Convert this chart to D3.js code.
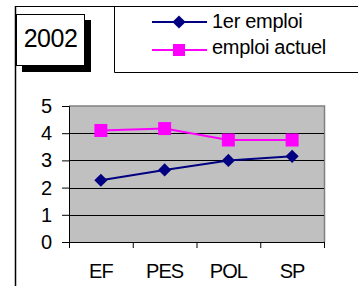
<!DOCTYPE html>
<html><head><meta charset="utf-8">
<script src="https://cdn.jsdelivr.net/npm/d3@7"></script>
<style>html,body{margin:0;padding:0;background:#fff;}svg{display:block;}</style>
</head><body>
<svg id="c" width="358" height="286"></svg>
<script>
const categories = ["EF", "PES", "POL", "SP"];
const premierEmploi = [2.27, 2.65, 3.0, 3.15];
const emploiActuel = [4.1, 4.17, 3.75, 3.75];
const yTicks = [0, 1, 2, 3, 4, 5];
const seriesNames = ["1er emploi", "emploi actuel"];
const title = "2002";

const svg = d3.select("#c");
const font = "Liberation Sans, Arial, sans-serif";

// frame lines
svg.append("line").attr("x1",15.5).attr("x2",15.5).attr("y1",6).attr("y2",286).attr("stroke","#000").attr("stroke-width",1.5);
svg.append("line").attr("x1",15).attr("x2",358).attr("y1",6.5).attr("y2",6.5).attr("stroke","#000").attr("stroke-width",1);

// title box with shadow
svg.append("rect").attr("x",22).attr("y",20).attr("width",69).attr("height",52).attr("fill","#000");
svg.append("rect").attr("x",16.5).attr("y",14.5).attr("width",68).attr("height",51).attr("fill","#fff").attr("stroke","#000").attr("stroke-width",1);
svg.append("text").attr("x",50.5).attr("y",46.5).attr("text-anchor","middle").attr("font-family",font).attr("font-size",25).attr("letter-spacing",-0.5).text(title);

const x = d3.scaleBand().domain(categories).range([69, 324]);
const y = d3.scaleLinear().domain([0, 5]).range([242, 106]);

// plot area
svg.append("rect").attr("x",69).attr("y",106).attr("width",255).attr("height",136).attr("fill","#c0c0c0");
svg.append("polyline").attr("points",`69,106 324.5,106 324.5,242`).attr("fill","none").attr("stroke","#808080").attr("stroke-width",1.5);

// gridlines
svg.selectAll(".grid").data(yTicks.filter(d=>d>0 && d<5)).enter().append("line")
  .attr("x1",69).attr("x2",324).attr("y1",d=>Math.round(y(d))+0.5).attr("y2",d=>Math.round(y(d))+0.5)
  .attr("stroke","#000").attr("stroke-width",1);

// y axis
const yAxis = svg.append("g").attr("transform","translate(69,0)")
  .call(d3.axisLeft(y).tickValues(yTicks).tickFormat(d3.format("d")).tickSize(7).tickPadding(10));
yAxis.selectAll("text").attr("font-family",font).attr("font-size",20).attr("fill","#000");
yAxis.selectAll("line").attr("stroke","#000");
yAxis.select(".domain").attr("stroke","#000");

// x axis
const xAxis = svg.append("g").attr("transform","translate(0,242)")
  .call(d3.axisBottom(x).tickSize(0).tickPadding(22));
xAxis.select(".domain").attr("stroke","#000");
xAxis.selectAll("text").attr("font-family",font).attr("font-size",20).attr("letter-spacing",-1).attr("fill","#000");
const edges = categories.map(c=>x(c)).concat([x.range()[1]]);
svg.selectAll(".xt").data(edges).enter().append("line")
  .attr("x1",d=>d+0.5).attr("x2",d=>d+0.5).attr("y1",242).attr("y2",248).attr("stroke","#000");

const cx = c => x(c) + x.bandwidth()/2;
const line = d3.line().x((d,i)=>cx(categories[i])).y(d=>y(d));

// series lines
svg.append("path").datum(emploiActuel).attr("d",line).attr("fill","none").attr("stroke","#ff00ff").attr("stroke-width",2);
svg.append("path").datum(premierEmploi).attr("d",line).attr("fill","none").attr("stroke","#000080").attr("stroke-width",2);

// markers
svg.selectAll(".sq").data(emploiActuel).enter().append("rect")
  .attr("x",(d,i)=>cx(categories[i])-6.5).attr("y",d=>y(d)-6.5).attr("width",13).attr("height",13).attr("fill","#ff00ff");
const diamond = d3.symbol().type(d3.symbolDiamond2).size(110);
svg.selectAll(".dm").data(premierEmploi).enter().append("path")
  .attr("d",diamond).attr("transform",(d,i)=>`translate(${cx(categories[i])},${y(d)})`).attr("fill","#000080");

// legend
svg.append("polyline").attr("points","114.5,6 114.5,72.5 360,72.5").attr("fill","none").attr("stroke","#000").attr("stroke-width",1);
const lg = [{name:seriesNames[0], color:"#000080", y:22, by:27.5}, {name:seriesNames[1], color:"#ff00ff", y:50, by:53.5}];
lg.forEach((d,i)=>{
  svg.append("line").attr("x1",152).attr("x2",207).attr("y1",d.y).attr("y2",d.y).attr("stroke",d.color).attr("stroke-width",2);
  if(i===0){
    svg.append("path").attr("d",diamond).attr("transform",`translate(179,${d.y})`).attr("fill",d.color);
  } else {
    svg.append("rect").attr("x",173).attr("y",d.y-6).attr("width",12).attr("height",12).attr("fill",d.color);
  }
  svg.append("text").attr("x",212).attr("y",d.by).attr("font-family",font).attr("font-size",20).attr("letter-spacing",-0.3).text(d.name);
});
</script>
</body></html>
